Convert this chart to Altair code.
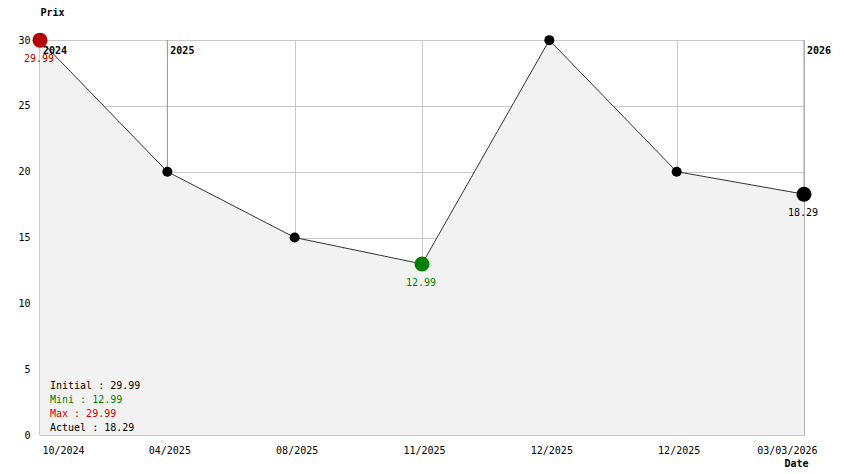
import altair as alt
import pandas as pd

date_labels = ["10/2024", "04/2025", "08/2025", "11/2025", "12/2025", "12/2025", "03/03/2026"]
prices = [29.99, 20.0, 15.0, 12.99, 29.99, 20.0, 18.29]
year_pos = [0, 1, 6]
year_labels = ["2024", "2025", "2026"]

FONT = "DejaVu Sans Mono"
n = len(prices)
idx = list(range(n))
df = pd.DataFrame({"i": idx, "price": prices, "label": date_labels})

i_min = prices.index(min(prices))
kinds = ["normal"] * n
kinds[0] = "initial"
kinds[i_min] = "min"
kinds[-1] = "last"
df["kind"] = kinds
df["txt"] = [f"{p:.2f}" for p in prices]

years = pd.DataFrame({"i": year_pos, "year": year_labels, "price": [30] * len(year_pos)})

labels_js = "[" + ",".join(f"'{l}'" for l in date_labels) + "]"

x = alt.X("i:Q", scale=alt.Scale(domain=[0, n - 1], nice=False),
          axis=alt.Axis(values=idx, labelExpr=f"{labels_js}[datum.value]", grid=True,
                        gridColor="#c8c8c8", domain=False, ticks=False, labelPadding=10,
                        labelOffset={"condition": {"test": f"datum.value == {n - 1}", "value": 13},
                                     "value": 2},
                        labelFont=FONT, labelFontSize=10, labelColor="#000",
                        labelBound=False, labelOverlap=False,
                        title="Date", titleFont=FONT, titleFontSize=10, titleFontWeight="bold",
                        titleX=744, titleY=28, titleAlign="left", titleBaseline="middle"))
y = alt.Y("price:Q", scale=alt.Scale(domain=[0, 30], nice=False),
          axis=alt.Axis(values=[0, 5, 10, 15, 20, 25, 30], grid=True, gridColor="#c8c8c8",
                        domain=False, ticks=False, labelPadding=10, labelFont=FONT,
                        labelFontSize=10, labelColor="#000",
                        title="Prix", titleFont=FONT, titleFontSize=10, titleFontWeight="bold",
                        titleAngle=0, titleX=0, titleY=-28, titleAlign="left",
                        titleBaseline="middle"))

base = alt.Chart(df)

year_rules = alt.Chart(years).mark_rule(color="#999999", strokeWidth=1).encode(
    x=x, y=y, y2=alt.datum(0))

area = base.mark_area(color="#f2f2f2", opacity=1).encode(x="i:Q", y="price:Q")
line = base.mark_line(color="#333333", strokeWidth=1).encode(x="i:Q", y="price:Q")

color_scale = alt.Scale(domain=["initial", "min", "last", "normal"],
                        range=["#b30000", "#008000", "#000000", "#000000"])

small_points = base.mark_circle(opacity=1, size=100, color="#000000").encode(
    x="i:Q", y="price:Q")
big_points = base.transform_filter("datum.kind != 'normal'").mark_circle(
    opacity=1, size=225).encode(
    x="i:Q", y="price:Q",
    color=alt.Color("kind:N", scale=color_scale, legend=None))

val_text = base.transform_filter("datum.kind != 'normal'").mark_text(
    font=FONT, fontSize=10, dy=19, dx=-1).encode(
    x="i:Q", y="price:Q", text="txt:N",
    color=alt.Color("kind:N", scale=color_scale, legend=None))

year_text = alt.Chart(years).mark_text(
    font=FONT, fontSize=10, fontWeight="bold", align="left", dx=3, dy=11, color="#000").encode(
    x="i:Q", y="price:Q", text="year:N")

stats_lines = [f"Initial : {prices[0]:.2f}", f"Mini : {min(prices):.2f}",
               f"Max : {max(prices):.2f}", f"Actuel : {prices[-1]:.2f}"]
stats_colors = ["#000000", "#008000", "#cc0000", "#000000"]
stats_layers = []
for k, (t, c) in enumerate(zip(stats_lines, stats_colors)):
    stats_layers.append(
        alt.Chart(pd.DataFrame({"t": [t]})).mark_text(
            font=FONT, fontSize=10, align="left", baseline="middle", color=c).encode(
            x=alt.value(10), y=alt.value(346 + 14 * k), text="t:N"))

chart = alt.layer(year_rules, area, line, year_text, small_points, big_points, val_text,
                  *stats_layers).properties(
    width=764, height=395,
    padding={"left": 32, "top": 32, "right": 32, "bottom": 38},
    autosize=alt.AutoSizeParams(type="none"),
).configure_view(stroke=None).configure(background="white")

chart.save("out.html", embed_options={"renderer": "svg", "actions": False})
